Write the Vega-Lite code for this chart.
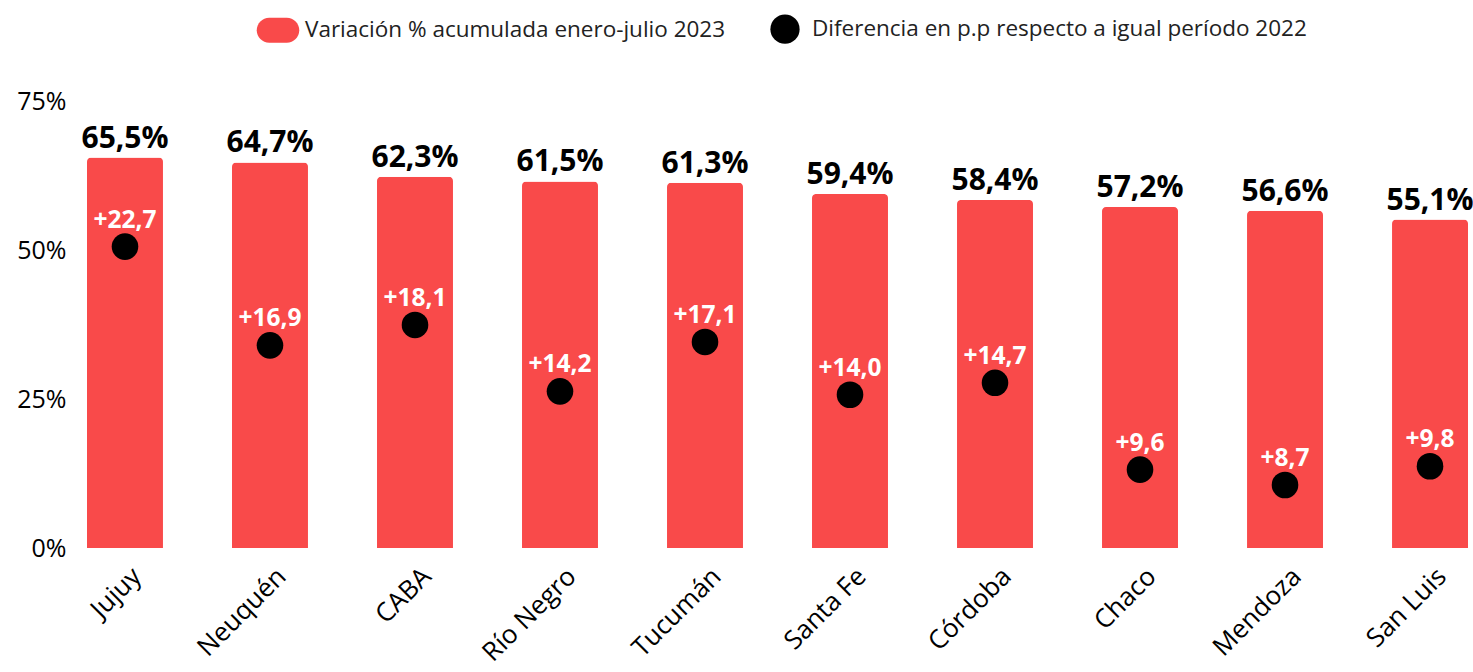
{
  "$schema": "https://vega.github.io/schema/vega-lite/v6.json",
  "width": 1381,
  "height": 447,
  "autosize": {"type": "none"},
  "padding": {"left": 87, "top": 101, "right": 5, "bottom": 124},
  "config": {
    "locale": {"number": {"decimal": ",", "thousands": ".", "grouping": [3], "currency": ["", "%"]}},
    "font": "Open Sans",
    "view": {"stroke": null},
    "axis": {"grid": false, "domain": false, "ticks": false}
  },
  "data": {
    "values": [
      {"provincia": "Jujuy", "variacion": 65.5, "diferencia": 22.7},
      {"provincia": "Neuquén", "variacion": 64.7, "diferencia": 16.9},
      {"provincia": "CABA", "variacion": 62.3, "diferencia": 18.1},
      {"provincia": "Río Negro", "variacion": 61.5, "diferencia": 14.2},
      {"provincia": "Tucumán", "variacion": 61.3, "diferencia": 17.1},
      {"provincia": "Santa Fe", "variacion": 59.4, "diferencia": 14.0},
      {"provincia": "Córdoba", "variacion": 58.4, "diferencia": 14.7},
      {"provincia": "Chaco", "variacion": 57.2, "diferencia": 9.6},
      {"provincia": "Mendoza", "variacion": 56.6, "diferencia": 8.7},
      {"provincia": "San Luis", "variacion": 55.1, "diferencia": 9.8}
    ]
  },
  "encoding": {
    "x": {
      "field": "provincia",
      "type": "nominal",
      "sort": null,
      "scale": {"paddingInner": 0.476, "paddingOuter": 0},
      "axis": {
        "title": null,
        "labelAngle": -45,
        "labelAlign": "right",
        "labelBaseline": "middle",
        "labelFontSize": 26,
        "labelFontWeight": 500,
        "labelColor": "#000000",
        "labelPadding": 24,
        "labelOffset": 12
      }
    }
  },
  "layer": [
    {
      "layer": [
        {
          "mark": {"type": "bar", "cornerRadiusTopLeft": 4, "cornerRadiusTopRight": 4},
          "encoding": {
            "y": {
              "field": "variacion",
              "type": "quantitative",
              "scale": {"domain": [0, 75], "nice": false},
              "axis": {
                "title": null,
                "values": [0, 25, 50, 75],
                "labelExpr": "datum.value + '%'",
                "labelFontSize": 25,
                "labelColor": "#000000",
                "labelPadding": 21
              }
            },
            "color": {
              "datum": "Variación % acumulada enero-julio 2023",
              "type": "nominal",
              "scale": {
                "domain": ["Variación % acumulada enero-julio 2023", "Diferencia en p.p respecto a igual período 2022"],
                "range": ["#F94A4A", "#000000"]
              },
              "legend": {
                "orient": "none",
                "legendX": 176,
                "legendY": -87,
                "direction": "horizontal",
                "title": null,
                "labelFontSize": 22.5,
                "labelColor": "#222222",
                "labelLimit": 0,
                "labelOffset": 12,
                "symbolSize": 855,
                "symbolStrokeWidth": 0,
                "columnPadding": 44
              }
            }
          }
        },
        {
          "mark": {"type": "text", "fontSize": 30, "fontWeight": "bold", "color": "#000000", "baseline": "alphabetic", "dy": -10},
          "encoding": {
            "y": {"field": "variacion", "type": "quantitative", "scale": {"domain": [0, 75], "nice": false}},
            "text": {"field": "variacion", "type": "quantitative", "format": "$.1f"}
          }
        }
      ]
    },
    {
      "layer": [
        {
          "mark": {"type": "point", "filled": true, "opacity": 1, "size": 707},
          "encoding": {
            "y": {
              "field": "diferencia",
              "type": "quantitative",
              "scale": {"domain": [5, 31.25], "nice": false, "zero": false},
              "axis": null
            },
            "color": {
              "datum": "Diferencia en p.p respecto a igual período 2022",
              "type": "nominal"
            },
            "shape": {
              "datum": "Diferencia en p.p respecto a igual período 2022",
              "type": "nominal",
              "scale": {
                "domain": ["Variación % acumulada enero-julio 2023", "Diferencia en p.p respecto a igual período 2022"],
                "range": ["M-0.6,-0.855L0.6,-0.855A0.855,0.855 0 0 1 0.6,0.855L-0.6,0.855A0.855,0.855 0 0 1 -0.6,-0.855Z", "circle"]
              },
              "legend": {
                "orient": "none",
                "legendX": 176,
                "legendY": -87,
                "direction": "horizontal",
                "title": null,
                "labelFontSize": 22.5,
                "labelColor": "#222222",
                "labelLimit": 0,
                "labelOffset": 12,
                "symbolSize": 855,
                "symbolStrokeWidth": 0,
                "columnPadding": 44
              }
            }
          }
        },
        {
          "mark": {"type": "text", "fontSize": 24.5, "fontWeight": "bold", "color": "#FFFFFF", "baseline": "alphabetic", "dy": -19},
          "encoding": {
            "y": {"field": "diferencia", "type": "quantitative", "scale": {"domain": [5, 31.25], "nice": false, "zero": false}},
            "text": {"field": "diferencia", "type": "quantitative", "format": "+.1f"}
          }
        }
      ]
    }
  ],
  "resolve": {"scale": {"y": "independent"}}
}
